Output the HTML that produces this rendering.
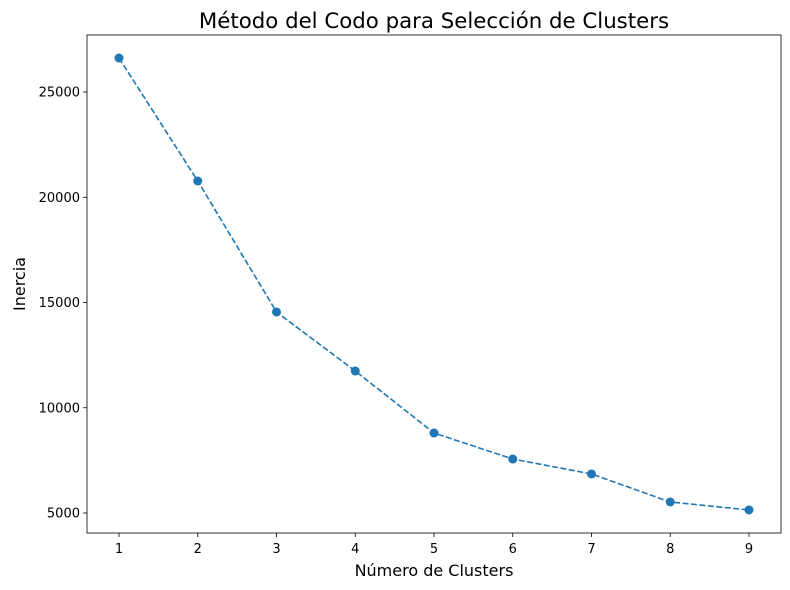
<!DOCTYPE html>
<html><head><meta charset="utf-8">
<style>
html,body{margin:0;padding:0;background:#fff;}
svg{display:block;font-family:"DejaVu Sans","Liberation Sans",sans-serif;}
</style></head>
<body>
<svg id="chart" width="790" height="590" viewBox="0 0 790 590">
<rect x="0" y="0" width="790" height="590" fill="#fff"/>
<text x="434" y="28" font-size="21.3" text-anchor="middle" fill="#000">Método del Codo para Selección de Clusters</text>
<g id="axes"></g>
<text x="434" y="576" font-size="16" text-anchor="middle" fill="#000">Número de Clusters</text>
<text transform="translate(25,284) rotate(-90)" font-size="16" text-anchor="middle" fill="#000">Inercia</text>
</svg>
<script>
const categories = [1,2,3,4,5,6,7,8,9];
const inertia = [26615,20772,14549,11746,8800,7565,6853,5523,5143];
const yTicks = [5000,10000,15000,20000,25000];

const L=87,R=781,T=35,B=533;
const xs = v => 119 + (v-1)*78.75;
const ys = v => 513 - (v-5000)*0.02105;
const NS="http://www.w3.org/2000/svg";
const g=document.getElementById('axes');
function mk(tag,attrs){const e=document.createElementNS(NS,tag);for(const k in attrs)e.setAttribute(k,attrs[k]);g.appendChild(e);return e;}

yTicks.forEach(v=>{
  const y=ys(v);
  const t=mk('line',{x1:L-4,x2:L,y1:y,y2:y,stroke:'#000','stroke-width':0.8});
  
  
  const l=mk('text',{x:L-7,y:y+4.5,'font-size':13,'text-anchor':'end',fill:'#000'});
  l.textContent=v;
  
  
});
categories.forEach(c=>{
  const x=xs(c);
  const t=mk('line',{x1:x,x2:x,y1:B,y2:B+4,stroke:'#000','stroke-width':0.8});
  
  
  const l=mk('text',{x:x,y:B+20,'font-size':13,'text-anchor':'middle',fill:'#000'});
  l.textContent=c;
  
  
});
const pts=categories.map((c,i)=>xs(c)+','+ys(inertia[i])).join(' ');
const line=mk('polyline',{points:pts,fill:'none',stroke:'#1f77b4','stroke-width':1.6,'stroke-dasharray':'6,2.5'});


categories.forEach((c,i)=>{
  const p=mk('circle',{cx:xs(c),cy:ys(inertia[i]),r:4.5,fill:'#1f77b4'});
  
  
});
const frame=mk('rect',{x:L,y:T,width:R-L,height:B-T,fill:'none',stroke:'#000','stroke-width':0.8});


</script>
</body></html>
